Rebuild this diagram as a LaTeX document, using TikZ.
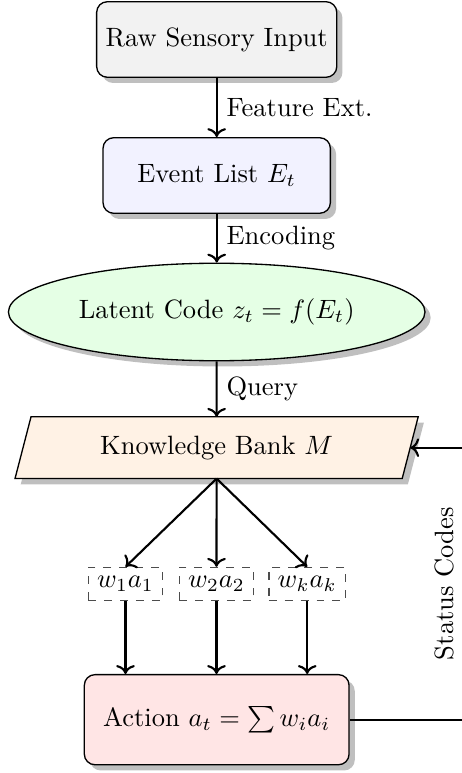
\documentclass[tikz,border=0pt]{standalone}
\usetikzlibrary{shapes.geometric,shadows,calc,backgrounds,arrows.meta}

\begin{document}
\begin{tikzpicture}[x=0.37736pt, y=-0.37736pt,
  box/.style={draw, line width=0.5pt, rounded corners=4pt, drop shadow, align=center},
  wbox/.style={draw=black!70, dashed, line width=0.5pt, fill=white},
  flow/.style={->, thick},
  lbl/.style={right, midway}]
\useasboundingbox (0,0) rectangle (461,773);

% main pipeline
\node[box, fill=gray!10, minimum width=90.6pt, minimum height=28.5pt] (raw) at (216.7,39.5) {Raw Sensory Input};
\node[box, fill=blue!5, minimum width=85.8pt, minimum height=28.5pt] (evt) at (216.7,175.5) {Event List $E_t$};
\node[ellipse, draw, line width=0.5pt, fill=green!10, drop shadow,
      minimum width=157.2pt, minimum height=36.8pt] (lat) at (216.7,312) {Latent Code $z_t = f(E_t)$};
\node[minimum width=145.7pt, minimum height=22.9pt, inner sep=0pt] (kb) at (216.6,447.7) {Knowledge Bank $M$};

% slanted outline of the knowledge bank
\begin{scope}[on background layer]
  \filldraw[line width=0.5pt, fill=orange!10, drop shadow]
    ($(kb.south west)+(-8,0)$) -- ($(kb.north west)+(8,0)$) --
    ($(kb.north east)+(8,0)$) -- ($(kb.south east)+(-8,0)$) -- cycle;
\end{scope}

% weighted actions
\node[wbox] (w1) at (125.5,584) {$w_1a_1$};
\node[wbox] (w2) at (216.5,584) {$w_2a_2$};
\node[wbox] (wk) at (307.2,584) {$w_ka_k$};

\node[box, fill=red!10, minimum width=99.9pt, minimum height=34pt] (act) at (216.7,719.7) {Action $a_t = \sum w_i a_i$};

% connectors
\draw[flow] (raw) -- node[lbl]{Feature Ext.} (evt);
\draw[flow] (evt) -- node[lbl]{Encoding} (lat);
\draw[flow] (lat) -- node[lbl]{Query} (kb);

\draw[flow] (kb.south) -- (w1.north);
\draw[flow] (kb.south) -- (w2.north);
\draw[flow] (kb.south) -- (wk.north);

\draw[flow] (w1.south) -- (w1.south |- act.north);
\draw[flow] (w2.south) -- (w2.south |- act.north);
\draw[flow] (wk.south) -- (wk.south |- act.north);

% feedback loop
\coordinate (loopx) at (464,0);
\draw[flow] (act.east) -- (act.east -| loopx)
  -- node[midway, above, sloped]{Status Codes} (kb.east -| loopx) -- (kb.east);
\end{tikzpicture}
\end{document}
